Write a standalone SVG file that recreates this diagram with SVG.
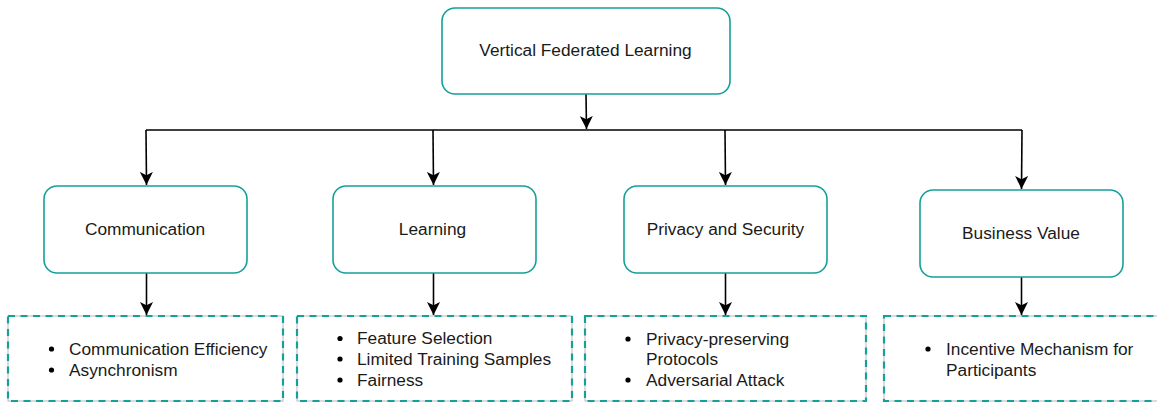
<svg xmlns="http://www.w3.org/2000/svg" width="1157" height="402" viewBox="0 0 1157 402">
<style>
.node{fill:#ffffff;stroke:#15a09a;stroke-width:1.6}
.grp{fill:none;stroke:#b8b8b8;stroke-width:1}
.dash{fill:none;stroke:#15a09a;stroke-width:2.2;stroke-dasharray:7 5.5}
.lbl{font-family:"Liberation Sans",Arial,sans-serif;font-size:17.3px;fill:#1a1a1a;text-anchor:middle}
.item{font-family:"Liberation Sans",Arial,sans-serif;font-size:17.3px;fill:#1a1a1a}
.bul{fill:#000}
.con{fill:none;stroke:#000;stroke-width:1.6}
</style>
<defs>
<marker id="arr" markerWidth="13" markerHeight="13" refX="10" refY="5" orient="auto" markerUnits="userSpaceOnUse" viewBox="0 0 10 10">
<path d="M0,0 L10,5 L0,10 L2.5,5 Z" fill="#000"/>
</marker>
</defs>
<rect width="1157" height="402" fill="#ffffff"/>
<g id="connectors">
<path class="con" d="M586,94 L586.5,129" marker-end="url(#arr)"/>
<path class="con" d="M146,130 L1022,130"/>
<path class="con" d="M146,130 L146.5,185" marker-end="url(#arr)"/>
<path class="con" d="M433,130 L433.5,185" marker-end="url(#arr)"/>
<path class="con" d="M725,130 L725.5,185" marker-end="url(#arr)"/>
<path class="con" d="M1022,130 L1021.5,189" marker-end="url(#arr)"/>
<path class="con" d="M146.5,273 L146.5,315" marker-end="url(#arr)"/>
<path class="con" d="M433.5,273 L433.5,315" marker-end="url(#arr)"/>
<path class="con" d="M725.5,273 L725.5,315" marker-end="url(#arr)"/>
<path class="con" d="M1021.5,277 L1021.5,315" marker-end="url(#arr)"/>
</g>
<g id="vfl">
<rect class="node" x="442" y="8" width="288" height="86" rx="13"/>
<text class="lbl" x="585.5" y="56">Vertical Federated Learning</text>
</g>
<g id="communication">
<rect class="node" x="44" y="186" width="203" height="87" rx="13"/>
<text class="lbl" x="145" y="235">Communication</text>
</g>
<g id="learning">
<rect class="node" x="333" y="186" width="203" height="87" rx="13"/>
<text class="lbl" x="432.5" y="235">Learning</text>
</g>
<g id="privacy">
<rect class="node" x="624" y="186" width="203" height="87" rx="13"/>
<text class="lbl" x="725.5" y="235">Privacy and Security</text>
</g>
<g id="business">
<rect class="node" x="920" y="190" width="203" height="87" rx="13"/>
<text class="lbl" x="1021" y="239">Business Value</text>
</g>
<g id="comm-items">
<rect class="grp" x="8" y="316" width="275" height="85"/>
<rect class="dash" x="8" y="316" width="275" height="85"/>
<circle class="bul" cx="51.5" cy="349" r="2.6"/>
<text class="item" x="69" y="355">Communication Efficiency</text>
<circle class="bul" cx="51.5" cy="370" r="2.6"/>
<text class="item" x="69" y="376">Asynchronism</text>
</g>
<g id="learning-items">
<rect class="grp" x="297" y="316" width="275" height="85"/>
<rect class="dash" x="297" y="316" width="275" height="85"/>
<circle class="bul" cx="340" cy="338.5" r="2.6"/>
<text class="item" x="357" y="344">Feature Selection</text>
<circle class="bul" cx="340" cy="359" r="2.6"/>
<text class="item" x="357" y="364.5">Limited Training Samples</text>
<circle class="bul" cx="340" cy="380" r="2.6"/>
<text class="item" x="357" y="385.5">Fairness</text>
</g>
<g id="privacy-items">
<rect class="grp" x="585" y="316" width="281" height="85"/>
<rect class="dash" x="585" y="316" width="281" height="85"/>
<circle class="bul" cx="628" cy="339" r="2.6"/>
<text class="item" x="646" y="344.5">Privacy-preserving</text>
<text class="item" x="646" y="364.5">Protocols</text>
<circle class="bul" cx="628" cy="380" r="2.6"/>
<text class="item" x="646" y="385.5">Adversarial Attack</text>
</g>
<g id="business-items">
<rect class="grp" x="884" y="316" width="285" height="85"/>
<rect class="dash" x="884" y="316" width="285" height="85"/>
<circle class="bul" cx="928" cy="349" r="2.6"/>
<text class="item" x="946" y="355">Incentive Mechanism for</text>
<text class="item" x="946" y="375.5">Participants</text>
</g>
</svg>
